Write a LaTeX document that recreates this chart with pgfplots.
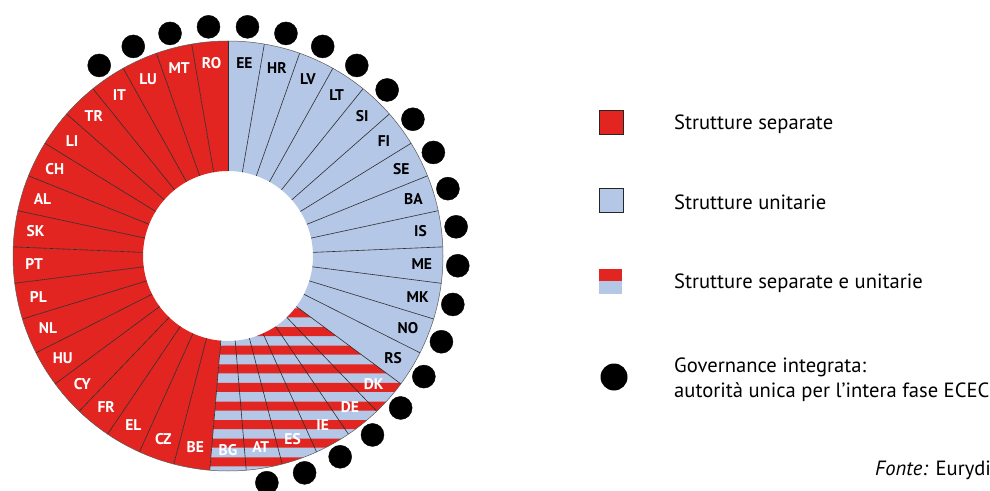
\documentclass[border=0pt]{standalone}
\usepackage{pgfplots}
\pgfplotsset{compat=1.18}
\usepackage{pgfplotstable}
\usepackage{fontspec}
\setmainfont{PT Sans}
\definecolor{sepred}{RGB}{227,37,33}
\definecolor{unblue}{RGB}{180,199,231}
\definecolor{segline}{RGB}{45,45,45}

% type: 0 = strutture separate, 1 = strutture unitarie, 2 = separate e unitarie
% dot: 1 = governance integrata
\pgfplotstableread{
idx name type dot
0 EE 1 1
1 HR 1 1
2 LV 1 1
3 LT 1 1
4 SI 1 1
5 FI 1 1
6 SE 1 1
7 BA 1 1
8 IS 1 1
9 ME 1 1
10 MK 1 1
11 NO 1 1
12 RS 1 1
13 DK 2 1
14 DE 2 1
15 IE 2 1
16 ES 2 1
17 AT 2 1
18 BG 2 0
19 BE 0 0
20 CZ 0 0
21 EL 0 0
22 FR 0 0
23 CY 0 0
24 HU 0 0
25 NL 0 0
26 PL 0 0
27 PT 0 0
28 SK 0 0
29 AL 0 0
30 CH 0 0
31 LI 0 0
32 TR 0 0
33 IT 0 1
34 LU 0 1
35 MT 0 1
36 RO 0 1
}\ctab

% governance integrata: angle of the country's segment, distance from centre
\pgfplotstableread{
name ang r
EE 85.135 230
HR 75.405 230
LV 65.676 230
LT 55.946 230
SI 46.216 230
FI 36.486 230
SE 26.757 230
BA 17.027 230
IS 7.297 230
ME -2.432 230
MK -12.162 230
NO -21.892 230
RS -31.622 230
DK -41.351 230
DE -51.081 230
IE -60.811 230
ES -70.541 230
AT -80.270 230
IT 124.054 230
LU 114.324 230
MT 104.595 230
RO 94.865 230
}\dottab

\newcommand\Rout{215}
\newcommand\Rin{85}
\newcommand\sectorpath[2]{(#1:\Rout pt) arc[start angle=#1, end angle=#2, radius=\Rout pt] -- (#2:\Rin pt) arc[start angle=#2, end angle=#1, radius=\Rin pt] -- cycle}

\newcommand\fillsector[3]{% a1 a2 type
  \ifcase#3\relax
    \fill[sepred, shift={(axis cs:0,0)}] \sectorpath{#1}{#2};
  \or
    \fill[unblue, shift={(axis cs:0,0)}] \sectorpath{#1}{#2};
  \else
  \fi
}
\newcommand\labelsector[3]{% am type name
  \ifnum#2=1\relax
    \path[shift={(axis cs:0,0)}] (#1:194pt) node[text=black, font=\bfseries\fontsize{15.5}{15.5}\selectfont] {#3};
  \else
    \path[shift={(axis cs:0,0)}] (#1:194pt) node[text=white, font=\bfseries\fontsize{15.5}{15.5}\selectfont] {#3};
  \fi
}

\begin{document}
\begin{tikzpicture}
\begin{axis}[x=1pt, y=1pt, xmin=-228, xmax=762, ymin=-234, ymax=256,
  hide axis, clip=true]

% sectors
\pgfplotsinvokeforeach{0,...,36}{
  \pgfplotstablegetelem{#1}{type}\of\ctab \edef\ty{\pgfplotsretval}
  \pgfmathsetmacro\aa{90-#1*360/37}
  \pgfmathsetmacro\ab{90-(#1+1)*360/37}
  \edef\temp{\noexpand\fillsector{\aa}{\ab}{\ty}}
  \temp
}

% striped block (DK ... BG)
\begin{scope}
  \clip[shift={(axis cs:0,0)}] \sectorpath{-36.486}{-94.865};
  \fill[unblue, shift={(axis cs:0,0)}] \sectorpath{-36.486}{-94.865};
  \fill[sepred, shift={(axis cs:0,0)}]
    (-260pt,-52.5pt) rectangle (260pt,-61.5pt)
    (-260pt,-71.1pt) rectangle (260pt,-80.1pt)
    (-260pt,-89.7pt) rectangle (260pt,-98.7pt)
    (-260pt,-108.3pt) rectangle (260pt,-117.3pt)
    (-260pt,-126.9pt) rectangle (260pt,-135.9pt)
    (-260pt,-145.5pt) rectangle (260pt,-154.5pt)
    (-260pt,-164.1pt) rectangle (260pt,-173.1pt)
    (-260pt,-182.7pt) rectangle (260pt,-191.7pt)
    (-260pt,-201.3pt) rectangle (260pt,-210.3pt);
\end{scope}

% boundaries
\pgfplotsinvokeforeach{0,...,36}{
  \pgfmathsetmacro\aa{90-#1*360/37}
  \edef\temp{\noexpand\draw[segline, line width=0.6pt, shift={(axis cs:0,0)}] (\aa:\Rin pt) -- (\aa:\Rout pt);}
  \temp
}
\draw[segline!80, line width=0.5pt] (axis cs:0,0) circle[radius=\Rout pt];

% labels
\pgfplotsinvokeforeach{0,...,36}{
  \pgfplotstablegetelem{#1}{type}\of\ctab \edef\ty{\pgfplotsretval}
  \pgfplotstablegetelem{#1}{name}\of\ctab \edef\nm{\pgfplotsretval}
  \pgfmathsetmacro\am{90-(#1+0.5)*360/37}
  \edef\temp{\noexpand\labelsector{\am}{\ty}{\nm}}
  \temp
}

% governance integrata
\addplot[only marks, mark=*, mark size=11.5pt, black, data cs=polar] table[x=ang, y=r] {\dottab};

% legend
\draw[fill=sepred, draw=black!85, line width=0.8pt] (axis cs:371,122) rectangle (axis cs:395,146);
\node[anchor=west, inner sep=0pt, font=\fontsize{20.6}{25}\selectfont] at (axis cs:446,132) {Strutture separate};
\draw[fill=unblue, draw=black!85, line width=0.8pt] (axis cs:371,44) rectangle (axis cs:395,68);
\node[anchor=west, inner sep=0pt, font=\fontsize{20.6}{25}\selectfont] at (axis cs:446,54) {Strutture unitarie};
\fill[sepred] (axis cs:371,-13) rectangle (axis cs:394,-25.5);
\fill[unblue] (axis cs:371,-25.5) rectangle (axis cs:394,-38);
\node[anchor=west, inner sep=0pt, font=\fontsize{20.6}{25}\selectfont] at (axis cs:446,-27) {Strutture separate e unitarie};
\fill[black] (axis cs:386,-121) circle[radius=13.5pt];
\node[anchor=west, inner sep=0pt, align=left, font=\fontsize{20.6}{25}\selectfont] at (axis cs:446,-123.5) {Governance integrata:\\autorità unica per l’intera fase ECEC};
\node[anchor=west, inner sep=0pt, font=\fontsize{20.6}{25}\selectfont] at (axis cs:647,-214) {\textit{Fonte:} Eurydi};
\end{axis}
\pgfresetboundingbox
\useasboundingbox (current axis.south west) rectangle (current axis.north east);
\end{tikzpicture}
\end{document}
